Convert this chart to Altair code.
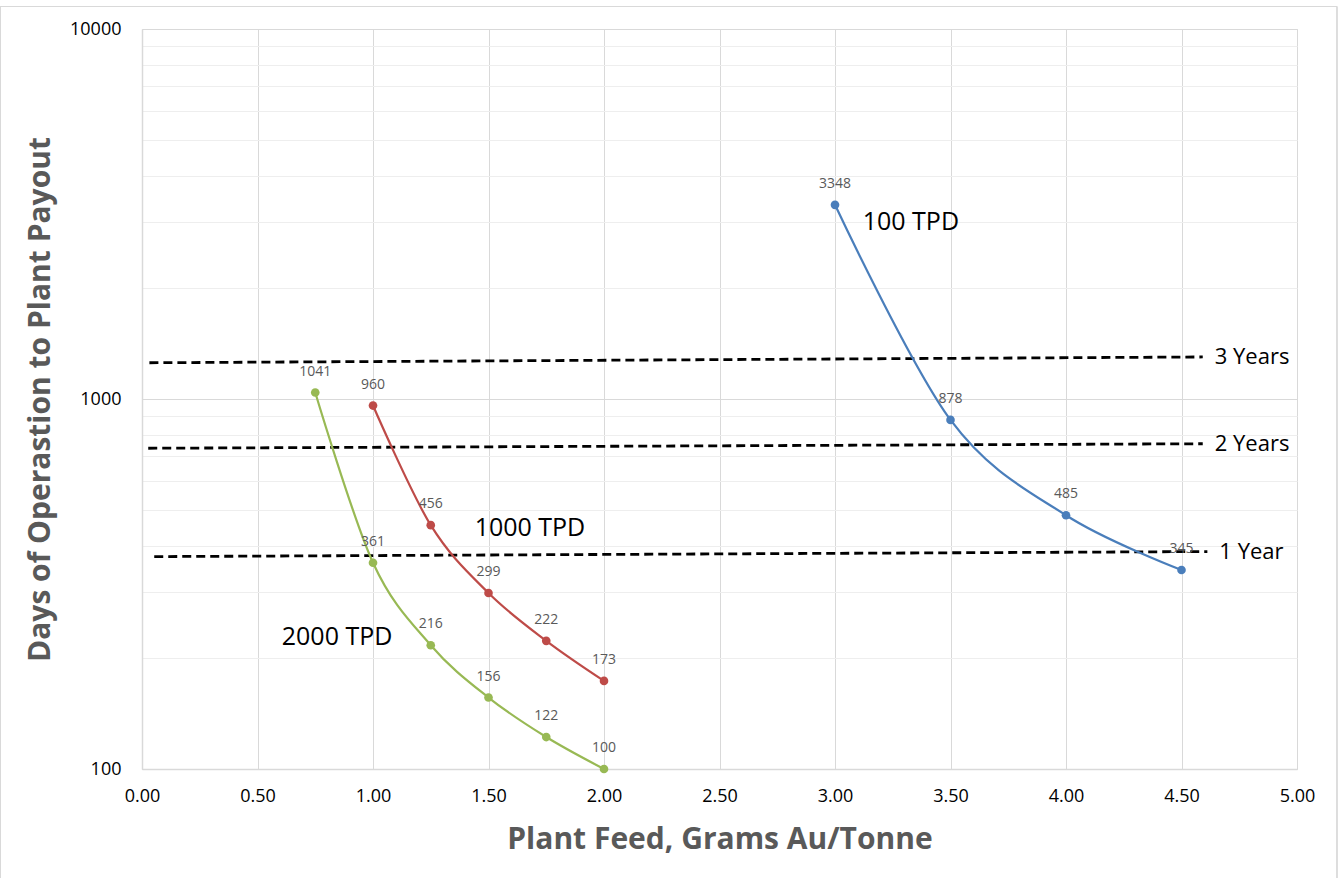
import altair as alt
import pandas as pd

# ---- data ----
tpd100_x = [3.0, 3.5, 4.0, 4.5]
tpd100_y = [3348, 878, 485, 345]
tpd1000_x = [1.0, 1.25, 1.5, 1.75, 2.0]
tpd1000_y = [960, 456, 299, 222, 173]
tpd2000_x = [0.75, 1.0, 1.25, 1.5, 1.75, 2.0]
tpd2000_y = [1041, 361, 216, 156, 122, 100]

series_names = ["100 TPD", "1000 TPD", "2000 TPD"]
series_colors = ["#4a7ebb", "#be4b48", "#98b954"]

# reference (dashed) lines: label, x start, y start, x end, y end
ref_labels = ["3 Years", "2 Years", "1 Year"]
ref_x1 = [0.032, 0.027, 0.053]
ref_y1 = [1253, 736, 375]
ref_x2 = [4.592, 4.592, 4.612]
ref_y2 = [1299, 757, 387]

# annotation texts (anchored in data coordinates)
ann_text = ["100 TPD", "1000 TPD", "2000 TPD"]
ann_x = [3.12, 1.44, 0.605]
ann_y = [3006, 448, 228]

x_ticks = [0, 0.5, 1, 1.5, 2, 2.5, 3, 3.5, 4, 4.5, 5]
y_ticks = [100, 200, 300, 400, 500, 600, 700, 800, 900,
           1000, 2000, 3000, 4000, 5000, 6000, 7000, 8000, 9000, 10000]

# ---- tables ----
rows = []
for name, xs, ys in zip(series_names, [tpd100_x, tpd1000_x, tpd2000_x],
                        [tpd100_y, tpd1000_y, tpd2000_y]):
    for i, (x, y) in enumerate(zip(xs, ys)):
        rows.append({"series": name, "x": x, "y": y, "order": i})
df = pd.DataFrame(rows)

ref_df = pd.DataFrame({"label": ref_labels, "x1": ref_x1, "y1": ref_y1,
                       "x2": ref_x2, "y2": ref_y2})
ann_df = pd.DataFrame({"text": ann_text, "x": ann_x, "y": ann_y})

FONT = "Open Sans"

xscale = alt.Scale(domain=[0, 5], nice=False)
yscale = alt.Scale(type="log", domain=[100, 10000], nice=False)
color = alt.Color("series:N", scale=alt.Scale(domain=series_names, range=series_colors), legend=None)

x_axis = alt.Axis(values=x_ticks, format=".2f", grid=True, gridColor="#d9d9d9",
                  ticks=False, domainColor="#d9d9d9", domainWidth=1.5,
                  labelFontSize=18, labelColor="#000000", labelFont=FONT,
                  labelPadding=18, labelFlush=False, title="Plant Feed, Grams Au/Tonne",
                  titleFont=FONT, titleFontSize=30, titleFontWeight="bold",
                  titleColor="#595959", titlePadding=19)
y_axis = alt.Axis(values=y_ticks, grid=True,
                  gridColor={"condition": {"test": "datum.value == 100 || datum.value == 1000 || datum.value == 10000",
                                           "value": "#d9d9d9"}, "value": "#eeeeee"},
                  labelExpr="(datum.value == 100 || datum.value == 1000 || datum.value == 10000) ? datum.value : ''",
                  ticks=False, domainColor="#d9d9d9", domainWidth=1.5,
                  labelFontSize=18, labelColor="#000000", labelFont=FONT,
                  labelPadding=21, labelFlush=False, title="Days of Operastion to Plant Payout",
                  titleFont=FONT, titleFontSize=30, titleFontWeight="bold",
                  titleColor="#595959", titlePadding=14)

base = alt.Chart(df)

lines = base.mark_line(interpolate="cardinal", strokeWidth=2.2).encode(
    x=alt.X("x:Q", scale=xscale, axis=x_axis),
    y=alt.Y("y:Q", scale=yscale, axis=y_axis),
    color=color,
    detail="series:N",
    order="order:Q",
)
points = base.mark_circle(size=75, opacity=1).encode(
    x=alt.X("x:Q", scale=xscale), y=alt.Y("y:Q", scale=yscale), color=color)
labels = base.mark_text(dy=-21, fontSize=14, color="#595959", font=FONT).encode(
    x=alt.X("x:Q", scale=xscale), y=alt.Y("y:Q", scale=yscale), text="y:Q")

refs = alt.Chart(ref_df).mark_rule(strokeDash=[9, 5], strokeWidth=2.8, color="#000000").encode(
    x=alt.X("x1:Q", scale=xscale), y=alt.Y("y1:Q", scale=yscale),
    x2="x2:Q", y2="y2:Q")
ref_text = alt.Chart(ref_df).mark_text(align="left", dx=12, fontSize=22, font=FONT, color="#000000").encode(
    x=alt.X("x2:Q", scale=xscale), y=alt.Y("y2:Q", scale=yscale), text="label:N")

ann = alt.Chart(ann_df).mark_text(align="left", fontSize=25, font=FONT, color="#000000").encode(
    x=alt.X("x:Q", scale=xscale), y=alt.Y("y:Q", scale=yscale), text="text:N")

frame = alt.Chart(ann_df).mark_rect(fill=None, stroke="#d9d9d9", strokeWidth=1).encode(
    x=alt.value(-141.5), x2=alt.value(1195), y=alt.value(-22.5), y2=alt.value(860))

chart = alt.layer(frame, refs, lines, points, labels, ref_text, ann).properties(
    width=1155, height=740,
    padding={"left": 142, "top": 29, "right": 46, "bottom": 109},
    autosize=alt.AutoSizeParams(type="none"),
).configure_view(stroke=None).configure(background="#ffffff")

chart.save("out.html", embed_options={"renderer": "svg", "actions": False})
